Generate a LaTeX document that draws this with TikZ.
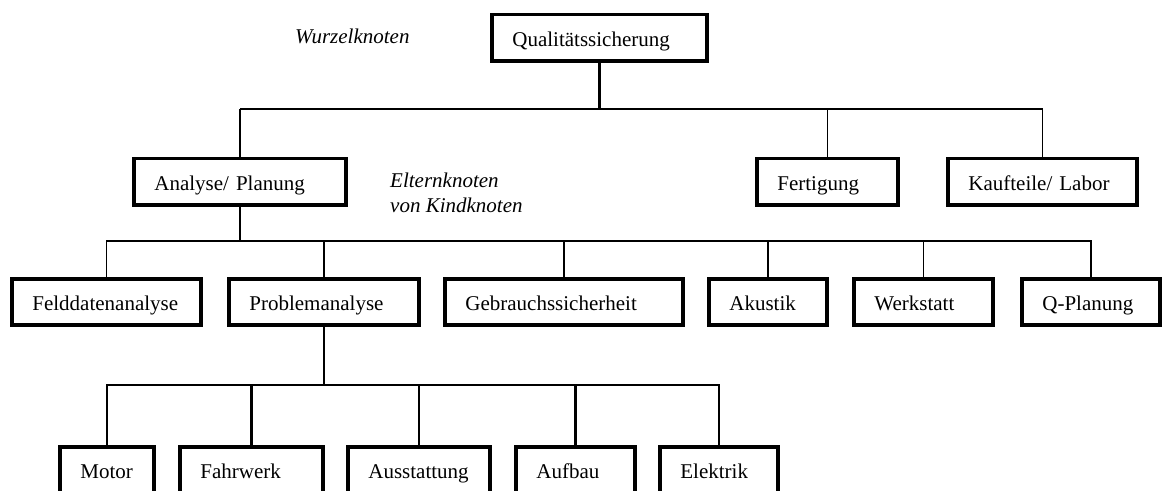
\documentclass[tikz,border=0pt]{standalone}
\usepackage{fontspec}
\setmainfont{Liberation Serif}
\begin{document}
\begin{tikzpicture}[x=1pt,y=-1pt,
  every node/.style={font=\fontsize{21pt}{24pt}\selectfont},
  box/.style={draw, line width=3.8pt, minimum height=46.2pt, inner xsep=20.5pt, inner ysep=0pt,
    align=left, text width=#1-41pt, text height=20pt, text depth=3pt,
    execute at begin node={\hyphenpenalty=10000\exhyphenpenalty=10000}},
  thinline/.style={line width=1.4pt},
  medline/.style={line width=2pt},
  thickline/.style={line width=2.8pt},
  lbl/.style={font=\fontsize{21pt}{25pt}\selectfont\itshape, inner sep=0pt, align=left}]
\useasboundingbox (0,0) rectangle (1167,490);
\clip (0,0) rectangle (1167,490);

% level 0
\node[box=215.2pt] (root) at (599.5,37.5) {Qualitätssicherung};
% level 1
\node[box=212.2pt] (ana)  at (240,181.5)   {Analyse/ Planung};
\node[box=141.2pt] (fert) at (827.5,181.5) {Fertigung};
\node[box=189.2pt] (kauf) at (1042.5,181.5) {Kaufteile/ Labor};
% level 2
\node[box=189.2pt] (fd) at (106.5,302) {Felddatenanalyse};
\node[box=190.2pt] (pa) at (324,302)   {Problemanalyse};
\node[box=238.2pt] (gs) at (564,302)   {Gebrauchssicherheit};
\node[box=118.2pt] (ak) at (768,302)   {Akustik};
\node[box=139.2pt] (ws) at (923.5,302) {Werkstatt};
\node[box=138.2pt] (qp) at (1091,302)  {Q-Planung};
% level 3
\node[box=94.2pt]  (mo) at (107,470)   {Motor};
\node[box=143.2pt] (fw) at (251.5,470) {Fahrwerk};
\node[box=142.2pt] (au) at (419,470)   {Ausstattung};
\node[box=119.2pt] (af) at (575.5,470) {Aufbau};
\node[box=118.2pt] (el) at (719,470)   {Elektrik};

% labels
\node[lbl, anchor=base west] (wurzel) at (295,43) {Wurzelknoten};
\node[lbl, anchor=base west] (eltern) at (390,212) {Elternknoten\\von Kindknoten};

% connectors level 0 -> 1
\path (root.south) ++(0,46.5) coordinate (j1);
\draw[thickline] (root.south) -- (j1);
\draw[thinline] (ana.north) -- (ana.north |- j1);
\draw[medline] (ana.north |- j1) -- (fert.north |- j1);
\draw[thinline] (fert.north) -- (fert.north |- j1);
\draw[thinline] (kauf.north) |- (fert.north |- j1);

% connectors level 1 -> 2
\path (ana.south) ++(0,34.5) coordinate (j2);
\draw[thickline] (ana.south) -- (j2) -| (qp.north);
\draw[thinline] (fd.north) |- (j2);
\draw[thinline] (pa.north) -- (pa.north |- j2);
\draw[medline] (gs.north) -- (gs.north |- j2);
\draw[thinline] (ak.north) -- (ak.north |- j2);
\draw[thinline] (ws.north) -- (ws.north |- j2);

% connectors level 2 -> 3
\path (pa.south) ++(0,58) coordinate (j3);
\draw[thickline] (pa.south) -- (j3);
\draw[thickline] (mo.north) |- (j3);
\draw[thickline] (el.north) |- (j3);
\draw[thickline] (fw.north) -- (fw.north |- j3);
\draw[thickline] (au.north) -- (au.north |- j3);
\draw[thickline] (af.north) -- (af.north |- j3);
\end{tikzpicture}
\end{document}
